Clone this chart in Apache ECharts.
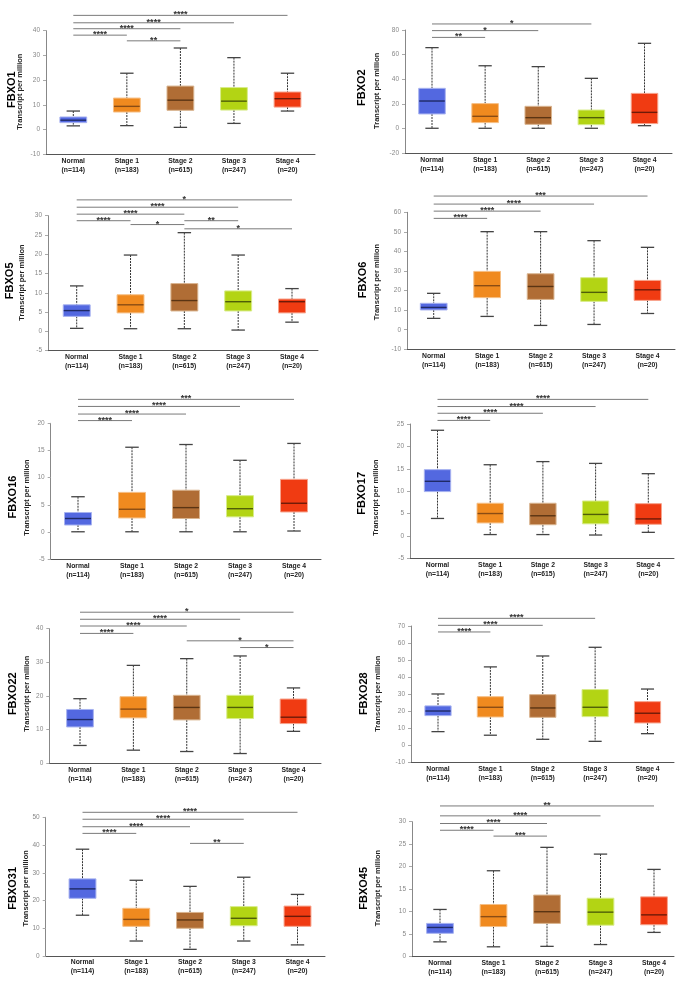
<!DOCTYPE html>
<html><head><meta charset="utf-8">
<script src="https://cdn.jsdelivr.net/npm/echarts@6/dist/echarts.min.js"></script>
<style>html,body{margin:0;padding:0;background:#fff}#c{width:685px;height:991px}</style>
</head><body><div id="c"></div>
<script>
// ---------- DATA ----------
const stageNames = ['Normal', 'Stage 1', 'Stage 2', 'Stage 3', 'Stage 4'];
const sampleSizes = [114, 183, 615, 247, 20];
const genes = ['FBXO1', 'FBXO2', 'FBXO5', 'FBXO6', 'FBXO16', 'FBXO17', 'FBXO22', 'FBXO28', 'FBXO31', 'FBXO45'];
const yTitle = 'Transcript per million';

// [min, Q1, median, Q3, max] per group (Normal, Stage1..4)
const fbxo1Box  = [[1.5,2.8,3.8,5.1,7.5],[1.6,7.1,9.4,12.75,22.8],[0.9,7.8,11.9,17.6,33],[2.5,7.9,11.5,17.0,29.1],[7.5,9.1,12.5,15.2,22.8]];
const fbxo2Box  = [[0.3,11.9,22.4,32.7,65.7],[0.3,4.9,10,20.3,51],[0.3,3.5,8.9,18.1,50.3],[0.3,3.2,8.9,15.1,40.8],[2.4,4.1,13.2,28.6,69.2]];
const fbxo5Box  = [[0.8,3.9,5.4,6.9,11.8],[0.7,4.8,6.9,9.5,19.8],[0.7,5.3,8.0,12.4,25.6],[0.35,5.3,7.7,10.5,19.8],[2.4,4.8,7.7,8.4,11.1]];
const fbxo6Box  = [[5.8,10.1,11.4,13.5,18.6],[6.8,16.4,22.5,29.8,50.1],[2.2,15.5,22.1,28.6,50.1],[2.7,14.5,19.1,26.6,45.5],[8.3,15.0,20.4,25.2,42.1]];
const fbxo16Box = [[0.06,1.3,2.5,3.6,6.5],[0.06,2.6,4.2,7.3,15.6],[0.06,2.5,4.5,7.7,16.1],[0.06,2.8,4.3,6.7,13.2],[0.2,3.7,5.3,9.7,16.3]];
const fbxo17Box = [[3.9,9.9,12.2,14.8,23.6],[0.3,2.9,5.0,7.3,15.9],[0.3,2.5,4.5,7.3,16.6],[0.2,2.7,4.8,7.8,16.2],[0.8,2.6,3.8,7.2,13.9]];
const fbxo22Box = [[5.3,10.8,13.0,16.0,19.2],[3.9,13.5,16.1,19.8,29.1],[3.5,12.9,16.6,20.2,31.1],[2.9,13.3,16.6,20.2,31.9],[9.5,11.8,13.7,19.1,22.4]];
const fbxo28Box = [[8.0,17.4,20.1,23.1,30.1],[5.9,16.6,22.3,28.5,46],[3.5,16.4,21.9,29.7,52.4],[2.3,16.8,22.3,32.7,57.5],[6.8,13.1,18.8,25.6,33]];
const fbxo31Box = [[14.7,20.8,24.2,27.8,38.5],[5.4,10.7,13.2,17.2,27.3],[2.4,10.0,13.0,15.7,25.1],[5.4,10.9,13.6,17.8,28.4],[4.0,10.7,14.3,18.0,22.2]];
const fbxo45Box = [[3.3,5.2,6.5,7.4,10.5],[2.2,6.7,8.9,11.6,19.1],[2.3,7.4,10.0,13.7,24.3],[2.7,7.0,9.9,13.0,22.8],[5.4,7.1,9.3,13.3,19.4]];

// significance brackets: [fromGroup, toGroup, stars, level (value units)]
const fbxo1Sig  = [[0,4,'****',46.2],[0,3,'****',43.2],[0,2,'****',40.8],[0,1,'****',38.2],[1,2,'**',35.9]];
const fbxo2Sig  = [[0,3,'*',84.9],[0,2,'*',79.5],[0,1,'**',74]];
const fbxo5Sig  = [[0,4,'*',34.1],[0,3,'****',32.2],[0,2,'****',30.4],[0,1,'****',28.7],[1,2,'*',27.7],[2,3,'**',28.7],[2,4,'*',26.6]];
const fbxo6Sig  = [[0,4,'***',68.3],[0,3,'****',64.2],[0,2,'****',60.6],[0,1,'****',56.9]];
const fbxo16Sig = [[0,4,'***',24.4],[0,3,'****',23.1],[0,2,'****',21.7],[0,1,'****',20.5]];
const fbxo17Sig = [[0,4,'****',30.5],[0,3,'****',28.9],[0,2,'****',27.4],[0,1,'****',25.8]];
const fbxo22Sig = [[0,4,'*',44.9],[0,3,'****',42.8],[0,2,'****',40.8],[0,1,'****',38.6],[2,4,'*',36.4],[3,4,'*',34.4]];
const fbxo28Sig = [[0,3,'****',74.5],[0,2,'****',70.4],[0,1,'****',66.5]];
const fbxo31Sig = [[0,4,'****',51.8],[0,3,'****',49.3],[0,2,'****',46.6],[0,1,'****',44.2],[2,3,'**',40.6]];
const fbxo45Sig = [[0,4,'**',33.5],[0,3,'****',31.3],[0,2,'****',29.6],[0,1,'****',28.1],[1,2,'***',26.8]];

// y axis ticks: [min, max, step]
const yTicks = [[-10,40,10],[-20,80,20],[-5,30,5],[-10,60,10],[-5,20,5],[-5,25,5],[0,40,10],[-10,70,10],[0,50,10],[0,30,5]];

const boxSets = [fbxo1Box, fbxo2Box, fbxo5Box, fbxo6Box, fbxo16Box, fbxo17Box, fbxo22Box, fbxo28Box, fbxo31Box, fbxo45Box];
const sigSets = [fbxo1Sig, fbxo2Sig, fbxo5Sig, fbxo6Sig, fbxo16Sig, fbxo17Sig, fbxo22Sig, fbxo28Sig, fbxo31Sig, fbxo45Sig];

// ---------- STYLE / LAYOUT ----------
const FILL   = ['#5368e0', '#f08a1f', '#b06d35', '#b3d414', '#f03b12'];
const BORDER = ['#a7b2f0', '#f6bf85', '#d9b48f', '#d8ec8a', '#f7a38c'];
const MEDIAN = ['#1f2a66', '#8a4c14', '#5a3413', '#4f5e08', '#6e1a08'];
const FONT = '"Liberation Sans", Arial, sans-serif';

// axisX: y-axis line px, right: x-axis end, c0/c4: first/last group centre px, top/bottom: plot px
const layout = [
  {axisX:46,   right:315, c0:73.3,  c4:287.5, top:30.7,  bottom:154.3, gx:11.7,  gy:89.7,  tx:20,    ty:91.7},
  {axisX:405,  right:672, c0:432,   c4:644.5, top:30,    bottom:153.3, gx:362,   gy:87.6,  tx:376.5, ty:90.8},
  {axisX:48,   right:318, c0:76.7,  c4:292,   top:215.7, bottom:350.7, gx:10,    gy:280.8, tx:21.7,  ty:282.5},
  {axisX:407,  right:675, c0:433.7, c4:647.5, top:212.3, bottom:349.3, gx:362.7, gy:280,   tx:376.5, ty:282},
  {axisX:50.7, right:321, c0:78,    c4:294,   top:423.3, bottom:559.3, gx:12.5,  gy:497,   tx:26.7,  ty:497.5},
  {axisX:410,  right:674, c0:437.5, c4:648.3, top:424,   bottom:558.3, gx:361.5, gy:493.3, tx:375.7, ty:497.5},
  {axisX:49.3, right:321, c0:80,    c4:293.5, top:628.7, bottom:763.3, gx:12.5,  gy:693.7, tx:26.7,  ty:693.7},
  {axisX:411,  right:674, c0:438,   c4:647.5, top:626,   bottom:762.3, gx:364,   gy:693.7, tx:378.3, ty:693.7},
  {axisX:45.7, right:325, c0:82.5,  c4:297.5, top:817.3, bottom:956,   gx:12.5,  gy:888.3, tx:26.3,  ty:888.3},
  {axisX:412,  right:674, c0:440,   c4:654,   top:821.7, bottom:956.7, gx:364,   gy:888.3, tx:378.3, ty:888}
];

const catLabels = stageNames.map((s, i) => s + '\n(n=' + sampleSizes[i] + ')');

function boxRender(params, api) {
  const i = api.value(0);
  const lo = api.coord([i, api.value(1)]);
  const q1 = api.coord([i, api.value(2)]);
  const md = api.coord([i, api.value(3)]);
  const q3 = api.coord([i, api.value(4)]);
  const hi = api.coord([i, api.value(5)]);
  const unit = api.size([1, 0])[0];
  const bw = unit * 0.5, cw = unit * 0.25, cx = lo[0];
  const dash = {stroke: '#333', lineWidth: 1, lineDash: [2, 1]};
  const cap = {stroke: '#444', lineWidth: 1.3};
  return {type: 'group', children: [
    {type: 'line', shape: {x1: cx, y1: hi[1], x2: cx, y2: q3[1]}, style: dash},
    {type: 'line', shape: {x1: cx, y1: q1[1], x2: cx, y2: lo[1]}, style: dash},
    {type: 'line', shape: {x1: cx - cw / 2, y1: hi[1], x2: cx + cw / 2, y2: hi[1]}, style: cap},
    {type: 'line', shape: {x1: cx - cw / 2, y1: lo[1], x2: cx + cw / 2, y2: lo[1]}, style: cap},
    {type: 'rect', shape: {x: cx - bw / 2, y: q3[1], width: bw, height: q1[1] - q3[1]},
      style: {fill: FILL[i], stroke: BORDER[i], lineWidth: 1}},
    {type: 'line', shape: {x1: cx - bw / 2 + 0.5, y1: md[1], x2: cx + bw / 2 - 0.5, y2: md[1]},
      style: {stroke: MEDIAN[i], lineWidth: 1.4}}
  ]};
}

function sigRenderFor(sig) {
  return function (params, api) {
    const a = api.coord([api.value(0), api.value(2)]);
    const b = api.coord([api.value(1), api.value(2)]);
    return {type: 'group', children: [
      {type: 'line', shape: {x1: a[0], y1: a[1], x2: b[0], y2: b[1]}, style: {stroke: '#7a7a7a', lineWidth: 1}},
      {type: 'text', style: {text: sig[params.dataIndex][2], x: (a[0] + b[0]) / 2, y: a[1] - 0.5,
        align: 'center', verticalAlign: 'middle', font: 'bold 9px ' + FONT, fill: '#333'}}
    ]};
  };
}

const grids = [], xAxes = [], yAxes = [], series = [], graphics = [];
layout.forEach((L, p) => {
  const sp = (L.c4 - L.c0) / 4;
  grids.push({left: L.axisX, top: L.top, width: L.right - L.axisX, height: L.bottom - L.top, containLabel: false});
  xAxes.push({
    type: 'value', gridIndex: p, position: 'bottom',
    min: -(L.c0 - L.axisX) / sp, max: 4 + (L.right - L.c4) / sp,
    axisLine: {show: true, onZero: false, lineStyle: {color: '#555', width: 1}},
    axisTick: {show: false}, splitLine: {show: false},
    axisLabel: {customValues: [0, 1, 2, 3, 4], formatter: v => catLabels[Math.round(v)] || '',
      fontSize: 6.8, fontWeight: 'bold', fontFamily: FONT, color: '#222', lineHeight: 9, margin: 2}
  });
  const yt = yTicks[p];
  yAxes.push({
    type: 'value', gridIndex: p, position: 'left', min: yt[0], max: yt[1], interval: yt[2],
    axisLine: {show: true, onZero: false, lineStyle: {color: '#888', width: 1}},
    axisTick: {show: true, length: 3, lineStyle: {color: '#aaa'}},
    splitLine: {show: false},
    axisLabel: {fontSize: 6.5, color: '#888', fontFamily: FONT, margin: 6}
  });
  series.push({
    type: 'custom', xAxisIndex: p, yAxisIndex: p, renderItem: boxRender, clip: false,
    encode: {x: 0, y: [1, 2, 3, 4, 5]},
    data: boxSets[p].map((b, i) => [i].concat(b))
  });
  series.push({
    type: 'custom', xAxisIndex: p, yAxisIndex: p, renderItem: sigRenderFor(sigSets[p]), clip: false,
    encode: {x: [0, 1], y: 2},
    data: sigSets[p].map(s => [s[0], s[1], s[3]])
  });
  graphics.push({type: 'text', x: L.gx, y: L.gy, rotation: Math.PI / 2,
    style: {text: genes[p], font: 'bold 11px ' + FONT, fill: '#000', align: 'center', verticalAlign: 'middle'}});
  graphics.push({type: 'text', x: L.tx, y: L.ty, rotation: Math.PI / 2,
    style: {text: yTitle, font: 'bold 7.5px ' + FONT, fill: '#222', align: 'center', verticalAlign: 'middle'}});
});

const chart = echarts.init(document.getElementById('c'), null, {renderer: 'canvas'});
chart.setOption({
  animation: false,
  backgroundColor: '#fff',
  grid: grids, xAxis: xAxes, yAxis: yAxes, series: series, graphic: graphics
});
</script></body></html>
